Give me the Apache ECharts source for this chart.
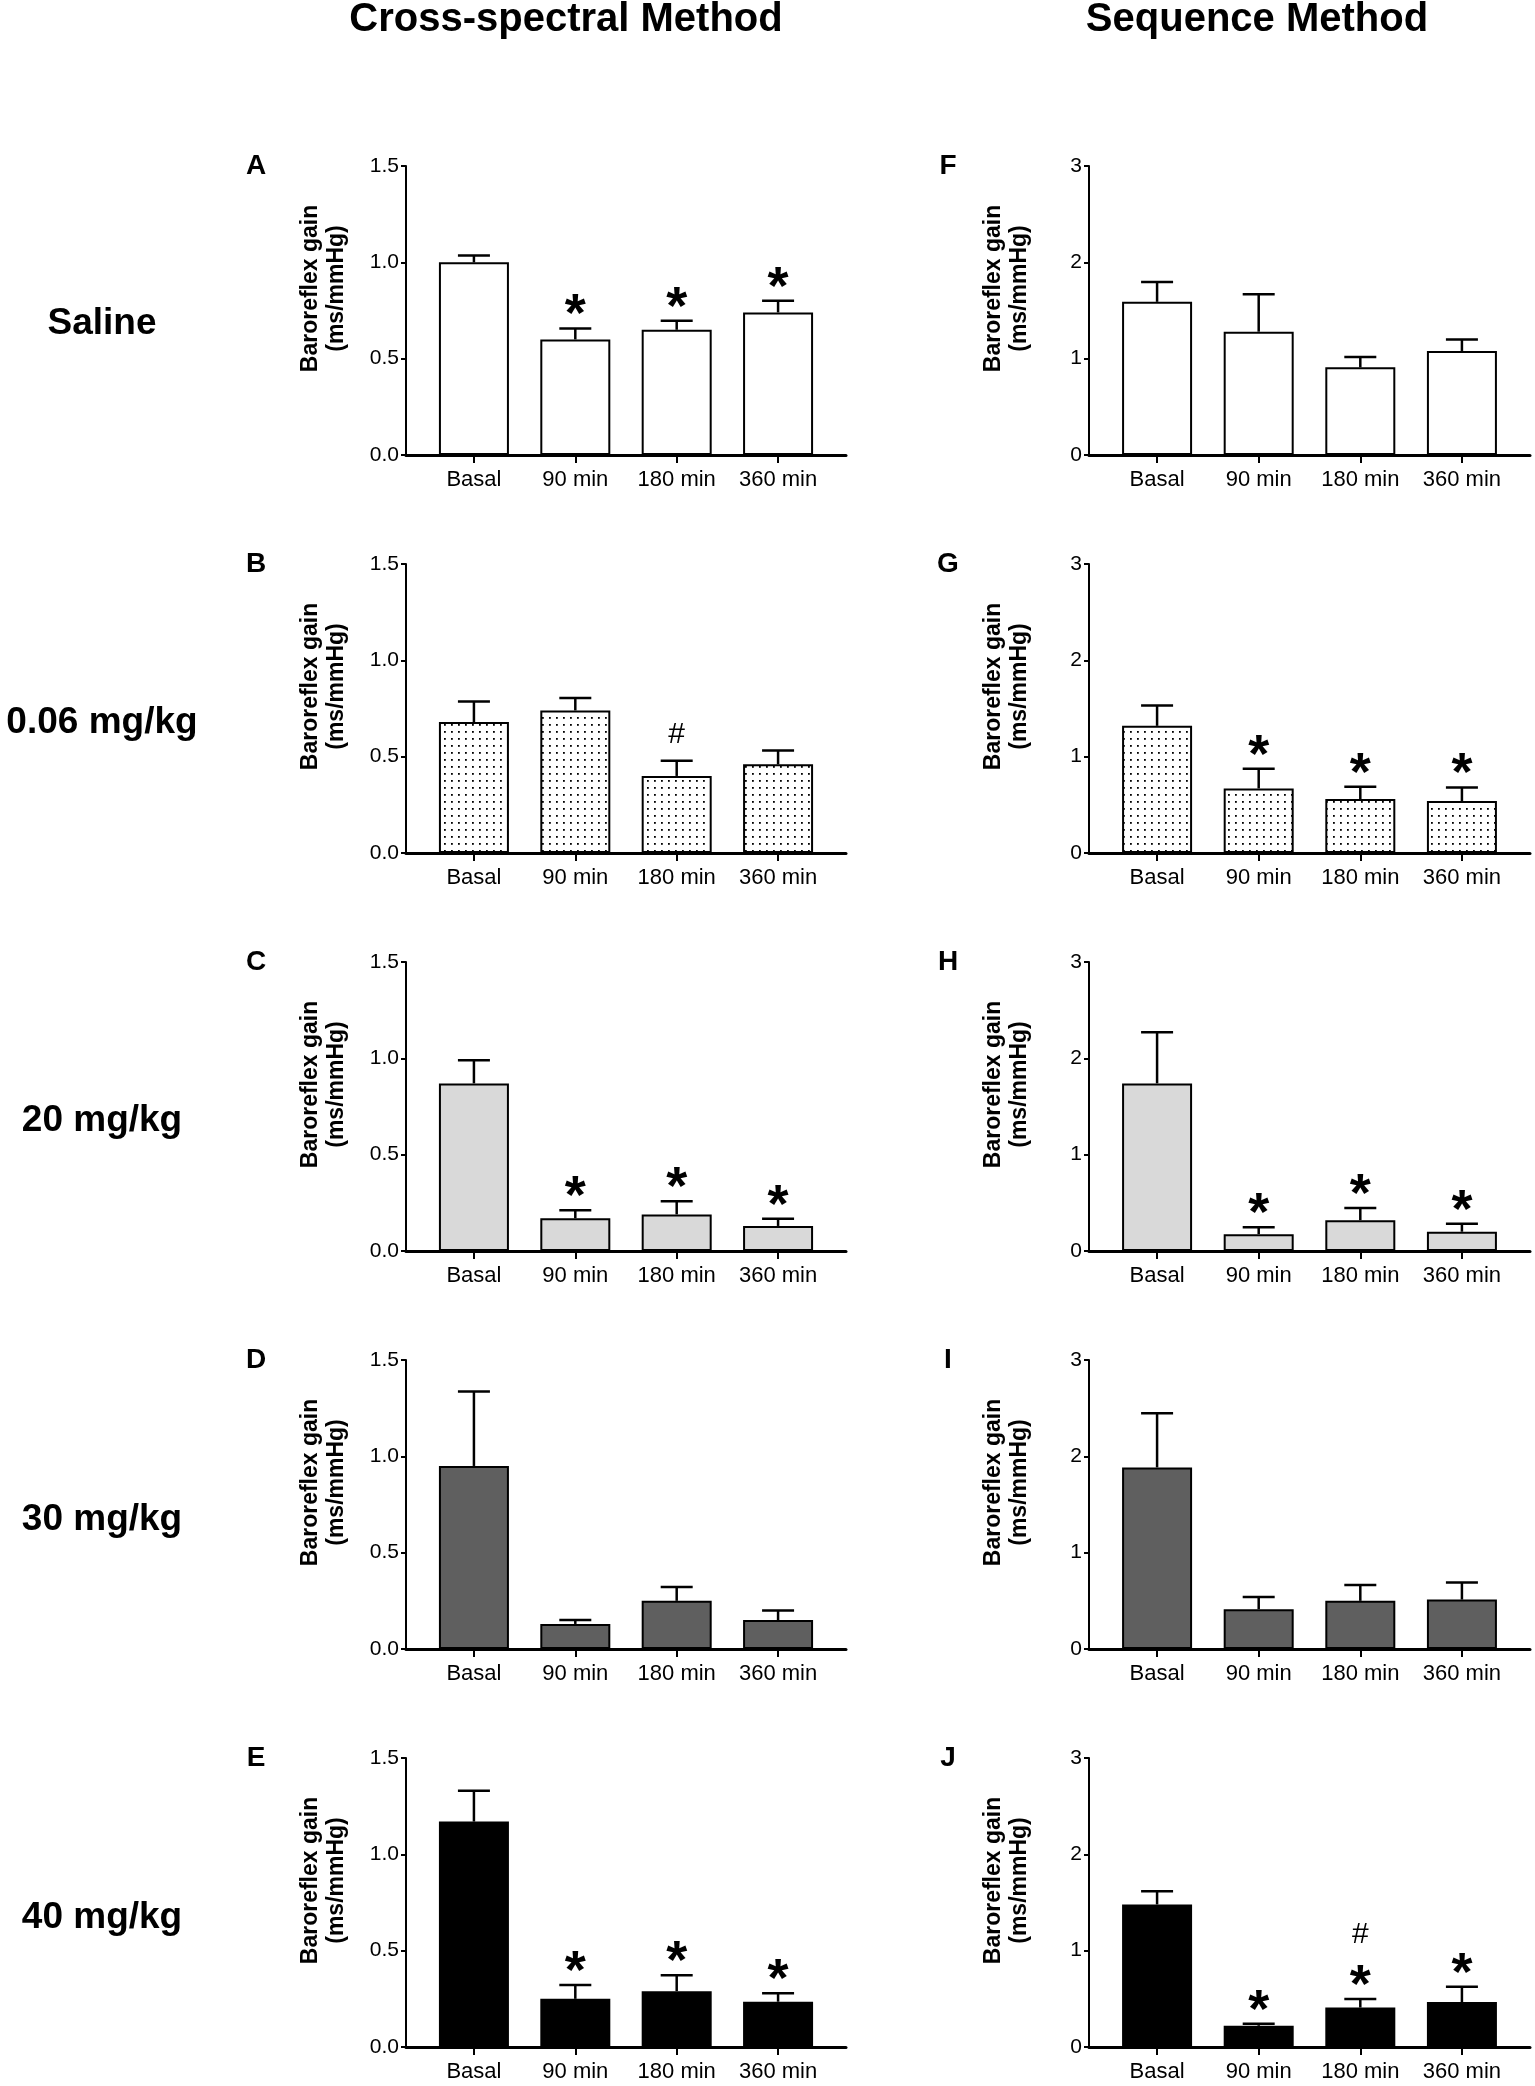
<!DOCTYPE html>
<html>
<head>
<meta charset="utf-8">
<title>Baroreflex gain</title>
<script src="https://cdn.jsdelivr.net/npm/echarts@6/dist/echarts.min.js"></script>
<style>
  body { margin: 0; background: #fff; }
  #main { width: 1535px; height: 2086px; }
</style>
</head>
<body>
<div id="main"></div>
<script>
// categories and labels
var categories = ['Basal', '90 min', '180 min', '360 min'];
var rowLabels = ['Saline', '0.06 mg/kg', '20 mg/kg', '30 mg/kg', '40 mg/kg'];
var crossLetters = ['A', 'B', 'C', 'D', 'E'];
var seqLetters = ['F', 'G', 'H', 'I', 'J'];

// cross-spectral method: mean and mean + SEM (top of error bar)
var crossMean = [
  [1.00, 0.60, 0.65, 0.74],
  [0.68, 0.74, 0.40, 0.46],
  [0.87, 0.17, 0.19, 0.13],
  [0.95, 0.13, 0.25, 0.15],
  [1.17, 0.25, 0.29, 0.235]
];
var crossTop = [
  [1.035, 0.657, 0.697, 0.80],
  [0.786, 0.805, 0.479, 0.532],
  [0.99, 0.211, 0.258, 0.167],
  [1.336, 0.15, 0.322, 0.20],
  [1.33, 0.322, 0.373, 0.279]
];
var crossMarks = [
  ['', '*', '*', '*'],
  ['', '', '#', ''],
  ['', '*', '*', '*'],
  ['', '', '', ''],
  ['', '*', '*', '*']
];

// sequence method
var seqMean = [
  [1.59, 1.28, 0.91, 1.08],
  [1.32, 0.67, 0.56, 0.54],
  [1.74, 0.175, 0.32, 0.20],
  [1.885, 0.413, 0.50, 0.513],
  [1.48, 0.22, 0.41, 0.466]
];
var seqTop = [
  [1.796, 1.668, 1.018, 1.20],
  [1.531, 0.874, 0.687, 0.680],
  [2.271, 0.247, 0.447, 0.282],
  [2.446, 0.54, 0.664, 0.691],
  [1.617, 0.242, 0.497, 0.626]
];
var seqMarks = [
  ['', '', '', ''],
  ['', '*', '*', '*'],
  ['', '*', '*', '*'],
  ['', '', '', ''],
  ['', '*', '#*', '*']
];

var FONT = "'Liberation Sans', Arial, sans-serif";

// dotted fill for the 0.06 mg/kg row
function dotPattern() {
  var c = document.createElement('canvas');
  c.width = 7; c.height = 7;
  var g = c.getContext('2d');
  g.fillStyle = '#fff';
  g.fillRect(0, 0, 7, 7);
  g.fillStyle = '#000';
  g.fillRect(3, 3, 1.8, 1.8);
  return c;
}
var rowFills = ['#ffffff', { image: dotPattern(), repeat: 'repeat' }, '#d9d9d9', '#5f5f5f', '#000000'];

var grids = [], xAxes = [], yAxes = [], series = [], graphics = [];

function addPanel(idx, row, col, mean, top, marks) {
  var left = col ? 1089 : 406;
  grids.push({ left: left, top: 166 + row * 398, width: col ? 441 : 440, height: 289 });
  xAxes.push({
    type: 'value', gridIndex: idx, min: -0.67, max: 3.67,
    splitLine: { show: false },
    axisLine: { onZero: false, lineStyle: { color: '#000', width: 3 } },
    axisTick: { customValues: [0, 1, 2, 3], length: 8, lineStyle: { color: '#000', width: 2 } },
    axisLabel: {
      customValues: [0, 1, 2, 3], margin: 14, color: '#000', fontSize: 22, fontFamily: FONT,
      formatter: function (v) { return categories[Math.round(v)]; }
    }
  });
  yAxes.push({
    type: 'value', gridIndex: idx, min: 0, max: col ? 3 : 1.5, interval: col ? 1 : 0.5,
    splitLine: { show: false },
    axisLine: { show: true, onZero: false, lineStyle: { color: '#000', width: 2 } },
    axisTick: { show: true, length: 5, lineStyle: { color: '#000', width: 2 } },
    axisLabel: {
      margin: 7, color: '#000', fontSize: 21, fontFamily: FONT,
      formatter: function (v) { return col ? String(v) : v.toFixed(1); }
    },
    name: 'Baroreflex gain\n(ms/mmHg)',
    nameLocation: 'middle', nameGap: 56,
    nameTextStyle: { color: '#000', fontSize: 23, fontWeight: 'bold', fontFamily: FONT, lineHeight: 26, padding: [0, 0, 0, 44] }
  });
  series.push({
    type: 'bar', xAxisIndex: idx, yAxisIndex: idx, barWidth: 70, z: 2,
    itemStyle: { color: rowFills[row], borderColor: '#000', borderWidth: 2 },
    data: mean.map(function (v, i) { return [i, v]; })
  });
  series.push({
    type: 'custom', xAxisIndex: idx, yAxisIndex: idx, z: 3, clip: false,
    data: mean.map(function (v, i) { return [i, v, top[i]]; }),
    renderItem: function (params, api) {
      var i = api.value(0);
      var p0 = api.coord([i, api.value(1)]);
      var p1 = api.coord([i, api.value(2)]);
      var st = { stroke: '#000', lineWidth: 2.5 };
      var kids = [
        { type: 'line', shape: { x1: p0[0], y1: p0[1], x2: p1[0], y2: p1[1] }, style: st },
        { type: 'line', shape: { x1: p1[0] - 16, y1: p1[1], x2: p1[0] + 16, y2: p1[1] }, style: st }
      ];
      var m = marks[params.dataIndex];
      if (m.indexOf('*') >= 0) {
        kids.push({ type: 'text', style: { text: '*', x: p1[0], y: p1[1] - 12, align: 'center', verticalAlign: 'middle',
          font: 'bold 54px ' + FONT, fill: '#000' } });
      }
      if (m.indexOf('#') >= 0) {
        var hy = m.indexOf('*') >= 0 ? p1[1] - 64 : p1[1] - 26;
        kids.push({ type: 'text', style: { text: '#', x: p1[0], y: hy, align: 'center', verticalAlign: 'middle',
          font: '30px ' + FONT, fill: '#000' } });
      }
      return { type: 'group', children: kids };
    }
  });
  graphics.push({
    type: 'text', x: col ? 948 : 256, y: 166 + row * 398,
    style: { text: col ? seqLetters[row] : crossLetters[row], align: 'center', verticalAlign: 'middle',
      font: 'bold 28px ' + FONT, fill: '#000' }
  });
}

for (var r = 0; r < 5; r++) {
  addPanel(r * 2, r, 0, crossMean[r], crossTop[r], crossMarks[r]);
  addPanel(r * 2 + 1, r, 1, seqMean[r], seqTop[r], seqMarks[r]);
  graphics.push({
    type: 'text', x: 102, y: 324 + r * 398.5,
    style: { text: rowLabels[r], align: 'center', verticalAlign: 'middle', font: 'bold 37px ' + FONT, fill: '#000' }
  });
}
graphics.push({ type: 'text', x: 566, y: 20,
  style: { text: 'Cross-spectral Method', align: 'center', verticalAlign: 'middle', font: 'bold 40px ' + FONT, fill: '#000' } });
graphics.push({ type: 'text', x: 1257, y: 20,
  style: { text: 'Sequence Method', align: 'center', verticalAlign: 'middle', font: 'bold 40px ' + FONT, fill: '#000' } });

var chart = echarts.init(document.getElementById('main'));
chart.setOption({
  animation: false,
  backgroundColor: '#fff',
  grid: grids,
  xAxis: xAxes,
  yAxis: yAxes,
  series: series,
  graphic: graphics
});
</script>
</body>
</html>
